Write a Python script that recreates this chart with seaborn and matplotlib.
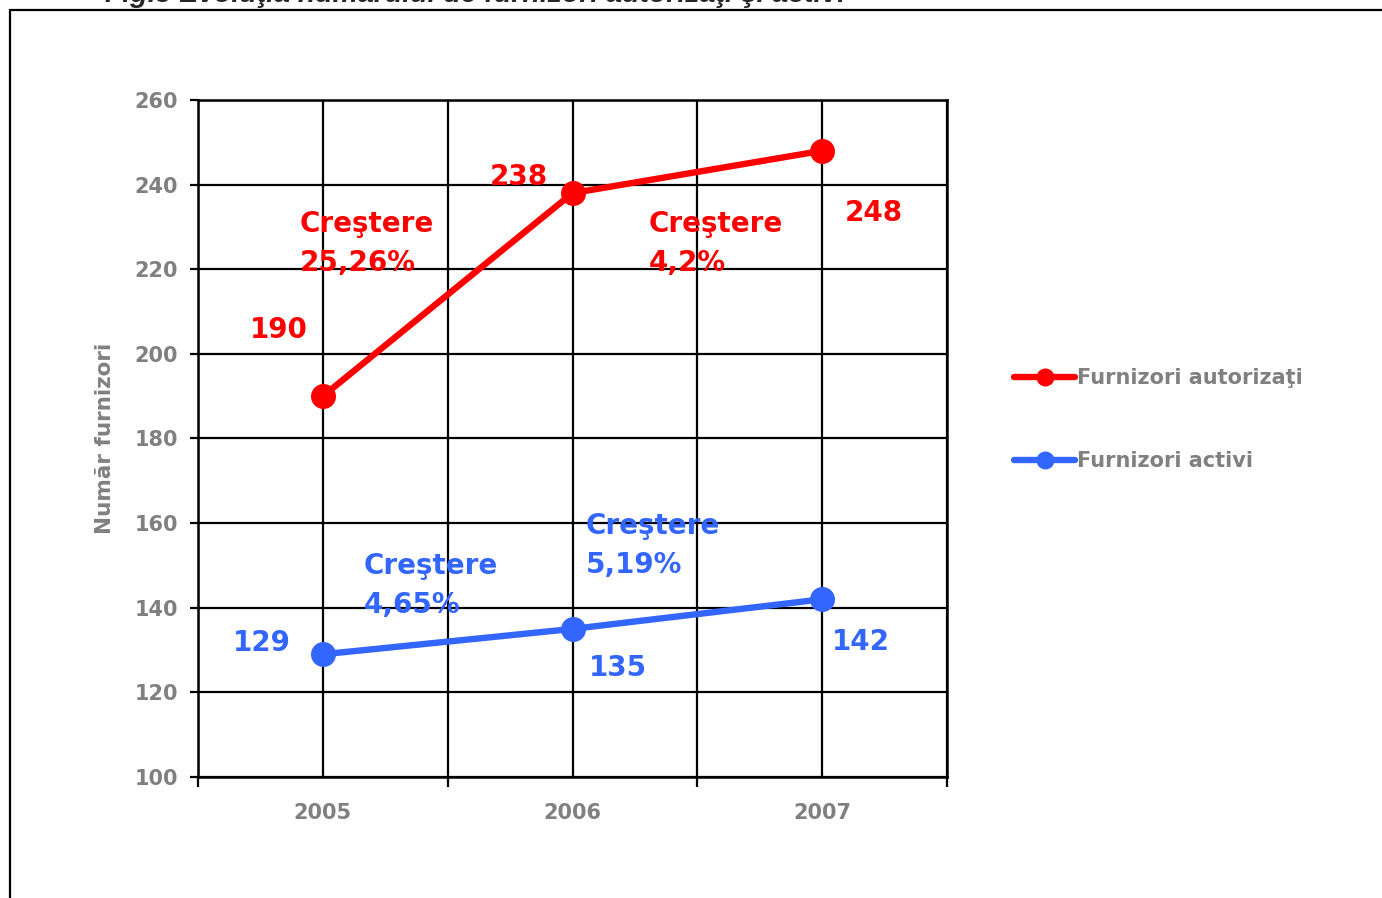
import matplotlib
matplotlib.use("Agg")
import matplotlib.pyplot as plt
import seaborn as sns
import pandas as pd
from matplotlib.patches import Rectangle

years = ["2005", "2006", "2007"]
autorizati = [190, 238, 248]
activi = [129, 135, 142]
series_names = ["Furnizori autorizaţi", "Furnizori activi"]
growth_aut = ["Creştere\n25,26%", "Creştere\n4,2%"]
growth_act = ["Creştere\n4,65%", "Creştere\n5,19%"]
y_ticks = [100, 120, 140, 160, 180, 200, 220, 240, 260]

RED = "#FF0000"
BLUE = "#3366FF"
GRAY = "#808080"

sns.set_style("white")
plt.rcParams["font.family"] = ["DejaVu Sans"]

df = pd.DataFrame({
    "pos": list(range(len(years))) * 2,
    "val": autorizati + activi,
    "serie": [series_names[0]] * 3 + [series_names[1]] * 3,
})

fig = plt.figure(figsize=(13.82, 8.98), dpi=100)
ax = fig.add_axes([198 / 1382, 1 - 777 / 898, (947 - 198) / 1382, (777 - 100) / 898])

sns.lineplot(data=df, x="pos", y="val", hue="serie", palette=[RED, BLUE],
             marker="o", markersize=18, linewidth=4.6, markeredgewidth=0,
             ax=ax, legend=True, zorder=5)

ax.set_xlim(-0.5, 2.5)
ax.set_ylim(100, 260)
ax.set_yticks(y_ticks)
ax.set_xticks([-0.5, 0.5, 1.5, 2.5])
ax.set_xticklabels([])
ax.set_xticks([0, 1, 2], minor=True)
ax.set_xticklabels(years, minor=True)
ax.tick_params(axis="x", which="major", bottom=True, direction="out", length=7, width=1.6, color="black")
ax.tick_params(axis="x", which="minor", bottom=True, length=0, pad=19, labelsize=15, labelcolor=GRAY)
ax.tick_params(axis="y", which="major", left=True, direction="out", length=6, width=1.6, color="black",
               labelsize=15, labelcolor=GRAY, pad=8.5)
for lab in ax.get_xticklabels(minor=True) + ax.get_yticklabels():
    lab.set_fontweight("bold")

ax.grid(True, axis="y", color="black", linewidth=1.6)
ax.grid(True, axis="x", which="both", color="black", linewidth=1.6)
ax.set_axisbelow(True)
for s in ax.spines.values():
    s.set_color("black")
    s.set_linewidth(1.8)

ax.set_xlabel("")
ax.set_ylabel("Număr furnizori", fontsize=15.5, fontweight="bold", color=GRAY, labelpad=14)

# value labels
tkw = dict(fontsize=20, fontweight="bold", ha="center", va="center", zorder=6)
ax.text(-0.176, 205.6, str(autorizati[0]), color=RED, **tkw)
ax.text(0.784, 241.8, str(autorizati[1]), color=RED, **tkw)
ax.text(2.208, 233.3, str(autorizati[2]), color=RED, **tkw)
ax.text(-0.244, 131.7, str(activi[0]), color=BLUE, **tkw)
ax.text(1.18, 125.8, str(activi[1]), color=BLUE, **tkw)
ax.text(2.156, 131.9, str(activi[2]), color=BLUE, **tkw)

gkw = dict(fontsize=20, fontweight="bold", ha="left", va="center", linespacing=1.5, zorder=6)
ax.text(-0.092, 226.1, growth_aut[0], color=RED, **gkw)
ax.text(1.304, 226.1, growth_aut[1], color=RED, **gkw)
ax.text(0.164, 145.3, growth_act[0], color=BLUE, **gkw)
ax.text(1.052, 154.6, growth_act[1], color=BLUE, **gkw)

leg = ax.legend(loc="upper left", bbox_to_anchor=(1.065, 0.632), frameon=False,
                fontsize=15, labelspacing=3.05, handlelength=2.9, handletextpad=0.1,
                markerscale=0.72)
for t in leg.get_texts():
    t.set_color(GRAY)
    t.set_fontweight("bold")

# outer frame (top and left visible)
fig.patches.append(Rectangle((10 / 1382, -0.5), 2.0, 0.5 + (1 - 10 / 898),
                             transform=fig.transFigure, fill=False,
                             edgecolor="black", linewidth=1.6, zorder=0))
# cut-off title (the reference shows only its lower edge)
fig.text(475 / 1382, 1 - 2 / 898, "Fig.3 Evoluţia numărului de furnizori autorizaţi şi activi",
         ha="center", va="baseline", fontsize=20.5, fontweight="bold", style="italic",
         family=["Liberation Sans", "DejaVu Sans"])

fig.savefig("out.png", dpi=100)
